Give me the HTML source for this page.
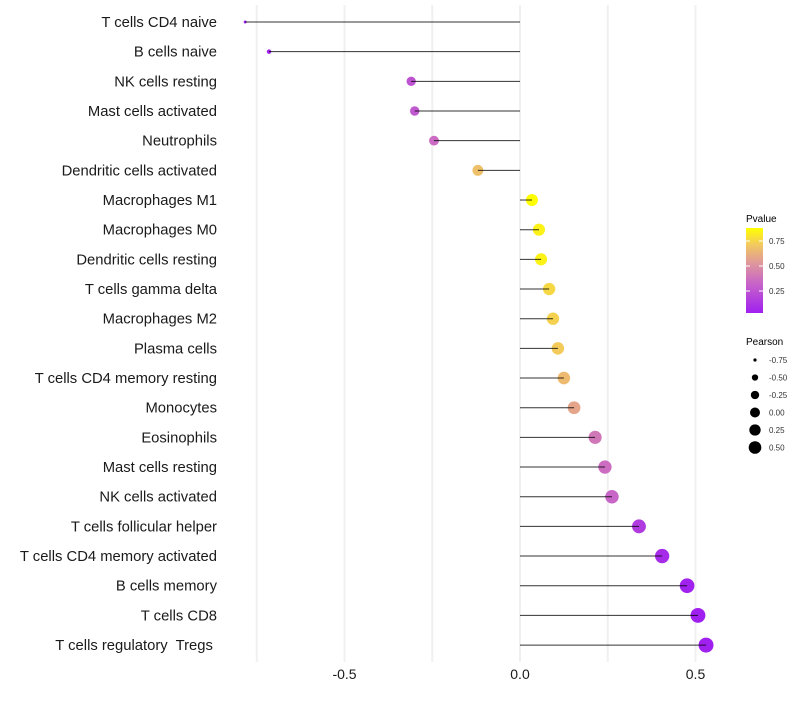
<!DOCTYPE html>
<html><head><meta charset="utf-8"><style>
body{margin:0;background:#fff;font-family:"Liberation Sans",sans-serif;}
text{white-space:pre;}
</style></head><body>
<svg id="chart" width="800" height="700" xmlns="http://www.w3.org/2000/svg" font-family="Liberation Sans, sans-serif">
<defs><linearGradient id="pg" x1="0" y1="1" x2="0" y2="0">
<stop offset="0" stop-color="#a020f0"/><stop offset="0.35" stop-color="#c865c8"/><stop offset="0.6" stop-color="#e09a98"/><stop offset="0.8" stop-color="#f2c860"/><stop offset="1" stop-color="#ffff00"/>
</linearGradient></defs>
<g id="grid"></g>
<g id="marks"></g>
<g id="ylab"></g>
<g id="xlab"></g>
<g>
<text x="746" y="222" font-size="10">Pvalue</text>
<rect x="746" y="228" width="17" height="85" fill="url(#pg)"/>
<g id="cbticks"></g>
</g>
<g id="sizeleg">
<text x="746" y="345" font-size="10">Pearson</text>
</g>
</svg>
<script>
const categories=["T cells CD4 naive","B cells naive","NK cells resting","Mast cells activated","Neutrophils","Dendritic cells activated","Macrophages M1","Macrophages M0","Dendritic cells resting","T cells gamma delta","Macrophages M2","Plasma cells","T cells CD4 memory resting","Monocytes","Eosinophils","Mast cells resting","NK cells activated","T cells follicular helper","T cells CD4 memory activated","B cells memory","T cells CD8","T cells regulatory  Tregs "];
const pearson=[-0.783,-0.715,-0.31,-0.30,-0.245,-0.12,0.034,0.054,0.06,0.083,0.094,0.108,0.125,0.154,0.214,0.242,0.262,0.339,0.405,0.476,0.507,0.53];
const pvalue=[0.02,0.04,0.25,0.27,0.35,0.68,0.9,0.84,0.84,0.76,0.74,0.72,0.66,0.58,0.4,0.36,0.33,0.15,0.08,0.04,0.03,0.03];
const xTicks=[-0.5,0,0.5];
const xGrid=[-0.75,-0.5,-0.25,0,0.25,0.5];
const cbTicks=[0.25,0.5,0.75];
const sizeLegend=[-0.75,-0.5,-0.25,0,0.25,0.5];
const NS="http://www.w3.org/2000/svg";
const X=v=>520+v*351;
const Y=i=>22+i*29.67;
const R=v=>Math.sqrt(2.25+Math.max(0,(v+0.783))/1.313*54);
const CBY=p=>316-p*100;
const stops=[[0,[160,32,240]],[0.35,[200,101,200]],[0.6,[224,154,152]],[0.8,[242,200,96]],[1,[255,255,0]]];
function col(p){const t=Math.max(0,Math.min(1,(p-0.03)/0.85));
for(let k=1;k<stops.length;k++){if(t<=stops[k][0]){const a=stops[k-1],b=stops[k];const u=(t-a[0])/(b[0]-a[0]);
return 'rgb('+a[1].map((x,i)=>Math.round(x+(b[1][i]-x)*u))+')';}}return 'rgb(255,255,0)';}
function mk(tag,attrs,parent){const e=document.createElementNS(NS,tag);for(const k in attrs)e.setAttribute(k,attrs[k]);parent.appendChild(e);return e;}
const grid=document.getElementById('grid'),marks=document.getElementById('marks'),ylab=document.getElementById('ylab'),xlab=document.getElementById('xlab');
xGrid.forEach(v=>{const l=mk('line',{x1:X(v),x2:X(v),y1:5,y2:662,stroke:'#f0f0f0','stroke-width':2},grid);

});
xTicks.forEach(v=>{const t=mk('text',{x:X(v),y:679,'font-size':14,'text-anchor':'middle',fill:'#1a1a1a'},xlab);t.textContent=v===0?'0.0':v.toFixed(1);

});
categories.forEach((c,i)=>{
const t=mk('text',{x:217,y:Y(i)+5,'font-size':14.8,'text-anchor':'end',fill:'#1a1a1a'},ylab);t.textContent=c;


const p=mk('circle',{cx:X(pearson[i]),cy:Y(i),r:R(pearson[i]),fill:col(pvalue[i])},marks);


const l=mk('line',{x1:X(0),x2:X(pearson[i]),y1:Y(i),y2:Y(i),stroke:'#000','stroke-width':1,'stroke-opacity':0.8},marks);


});
const cb=document.getElementById('cbticks');
cbTicks.forEach(v=>{mk('line',{x1:746,x2:750,y1:CBY(v),y2:CBY(v),stroke:'#fff'},cb);mk('line',{x1:759,x2:763,y1:CBY(v),y2:CBY(v),stroke:'#fff'},cb);
const t=mk('text',{x:769,y:CBY(v)+3,'font-size':8,fill:'#333'},cb);t.textContent=v.toFixed(2);

});
const sl=document.getElementById('sizeleg');
sizeLegend.forEach((v,i)=>{const y=360+i*17.5;
const c=mk('circle',{cx:755,cy:y,r:R(v)*0.85,fill:'#000'},sl);


const t=mk('text',{x:769,y:y+3,'font-size':8,fill:'#333'},sl);t.textContent=v.toFixed(2);

});
</script>
</body></html>
